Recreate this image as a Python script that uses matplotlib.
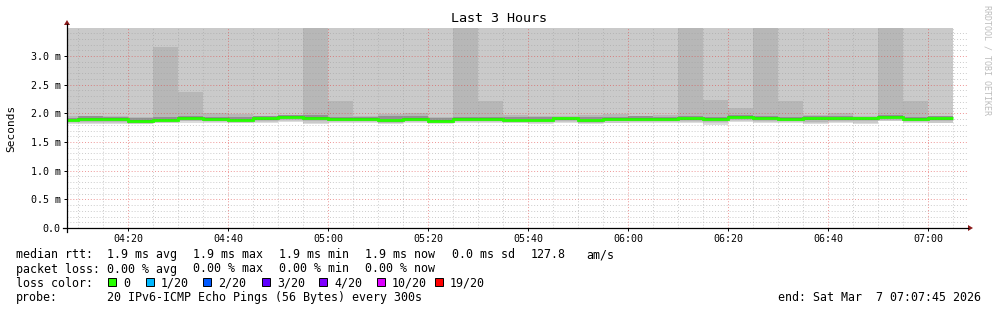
import matplotlib
matplotlib.use("Agg")
import matplotlib.pyplot as plt
from matplotlib.patches import Polygon, Rectangle
from matplotlib.lines import Line2D
from matplotlib.ticker import MultipleLocator, FixedLocator

# ---------------- data ----------------
bin_starts = ["04:05", "04:10", "04:15", "04:20", "04:25", "04:30", "04:35", "04:40", "04:45",
              "04:50", "04:55", "05:00", "05:05", "05:10", "05:15", "05:20", "05:25", "05:30",
              "05:35", "05:40", "05:45", "05:50", "05:55", "06:00", "06:05", "06:10", "06:15",
              "06:20", "06:25", "06:30", "06:35", "06:40", "06:45", "06:50", "06:55", "07:00"]
bin_width_min = 5

# median rtt (ms)
median = [1.88, 1.90, 1.90, 1.87, 1.89, 1.92, 1.90, 1.89, 1.91, 1.94, 1.92, 1.90,
          1.90, 1.88, 1.90, 1.87, 1.90, 1.90, 1.88, 1.88, 1.91, 1.88, 1.90, 1.90,
          1.90, 1.91, 1.90, 1.94, 1.92, 1.90, 1.91, 1.91, 1.91, 1.94, 1.90, 1.91]
# smoke: sorted ping bands (ms), outer -> inner
ping_min = [1.82, 1.81, 1.82, 1.81, 1.83, 1.84, 1.83, 1.83, 1.84, 1.85, 1.82, 1.83,
            1.84, 1.82, 1.83, 1.82, 1.84, 1.84, 1.83, 1.82, 1.84, 1.82, 1.83, 1.83,
            1.84, 1.84, 1.80, 1.85, 1.84, 1.83, 1.81, 1.84, 1.81, 1.86, 1.84, 1.83]
ping_max = [3.9, 4.4, 3.8, 4.1, 5.2, 4.6, 3.9, 4.0, 4.3, 3.8, 6.1, 4.2,
            3.9, 4.1, 4.0, 3.8, 5.8, 4.4, 3.9, 4.0, 4.2, 3.9, 4.1, 3.8,
            4.0, 5.5, 4.3, 4.1, 5.9, 4.2, 3.9, 4.0, 3.8, 5.6, 4.4, 4.0]
ping2_lo = [1.84, 1.83, 1.84, 1.82, 1.84, 1.86, 1.85, 1.84, 1.85, 1.87, 1.84, 1.85,
            1.85, 1.83, 1.85, 1.83, 1.85, 1.85, 1.84, 1.84, 1.85, 1.83, 1.84, 1.85,
            1.85, 1.85, 1.83, 1.87, 1.85, 1.85, 1.83, 1.85, 1.84, 1.87, 1.85, 1.84]
ping2_hi = [3.7, 3.8, 3.6, 3.7, 4.4, 3.9, 3.6, 3.7, 3.8, 3.6, 5.0, 3.7,
            3.6, 3.7, 3.7, 3.6, 4.9, 3.8, 3.6, 3.7, 3.8, 3.6, 3.7, 3.6,
            3.7, 4.6, 3.8, 3.7, 4.8, 3.7, 3.6, 3.7, 3.6, 4.7, 3.8, 3.7]
ping3_lo = [1.85, 1.85, 1.85, 1.83, 1.85, 1.87, 1.86, 1.85, 1.87, 1.89, 1.86, 1.86,
            1.86, 1.84, 1.86, 1.84, 1.86, 1.86, 1.85, 1.85, 1.87, 1.84, 1.86, 1.86,
            1.86, 1.87, 1.85, 1.89, 1.87, 1.86, 1.85, 1.87, 1.86, 1.89, 1.86, 1.86]
ping3_hi = [1.95, 1.96, 1.96, 1.93, 3.15, 2.37, 2.01, 1.98, 1.96, 1.97, 3.60, 2.21,
            1.96, 1.98, 2.01, 1.94, 3.60, 2.21, 1.97, 1.96, 1.96, 1.97, 1.98, 1.96,
            1.97, 3.60, 2.23, 2.09, 3.60, 2.22, 1.97, 2.00, 1.96, 3.60, 2.22, 1.96]
ping5_lo = [1.86, 1.87, 1.87, 1.84, 1.86, 1.89, 1.87, 1.86, 1.88, 1.91, 1.89, 1.87,
            1.87, 1.85, 1.87, 1.85, 1.87, 1.87, 1.86, 1.86, 1.88, 1.85, 1.87, 1.87,
            1.87, 1.88, 1.87, 1.91, 1.89, 1.87, 1.88, 1.88, 1.88, 1.91, 1.87, 1.88]
ping5_hi = [1.92, 1.95, 1.94, 1.91, 1.93, 1.96, 1.94, 1.93, 1.95, 1.97, 1.97, 1.94,
            1.94, 1.95, 1.95, 1.92, 1.94, 1.94, 1.93, 1.93, 1.94, 1.93, 1.94, 1.95,
            1.94, 1.95, 1.94, 1.97, 1.95, 1.94, 1.95, 1.96, 1.94, 1.97, 1.94, 1.95]
ping8_lo = [1.87, 1.88, 1.88, 1.85, 1.87, 1.90, 1.88, 1.87, 1.89, 1.92, 1.90, 1.88,
            1.88, 1.86, 1.88, 1.85, 1.88, 1.88, 1.86, 1.86, 1.89, 1.86, 1.88, 1.88,
            1.88, 1.89, 1.88, 1.92, 1.90, 1.88, 1.89, 1.89, 1.89, 1.92, 1.88, 1.89]
ping8_hi = [1.89, 1.91, 1.91, 1.88, 1.90, 1.93, 1.91, 1.90, 1.92, 1.95, 1.93, 1.91,
            1.91, 1.89, 1.91, 1.88, 1.91, 1.91, 1.89, 1.89, 1.92, 1.89, 1.91, 1.91,
            1.91, 1.92, 1.91, 1.95, 1.93, 1.91, 1.92, 1.92, 1.92, 1.95, 1.91, 1.92]

x_tick_labels = ["04:20", "04:40", "05:00", "05:20", "05:40", "06:00", "06:20", "06:40", "07:00"]
y_tick_values = [0.0, 0.5, 1.0, 1.5, 2.0, 2.5, 3.0]
y_tick_labels = ["0.0", "0.5 m", "1.0 m", "1.5 m", "2.0 m", "2.5 m", "3.0 m"]
t_start = "04:07:45"
t_end = "07:07:45"

title = "Last 3 Hours"
ylabel = "Seconds"
row1_fields = ["median rtt:", "1.9 ms avg", "1.9 ms max", "1.9 ms min", "1.9 ms now",
               "0.0 ms sd", "127.8", "am/s"]
row2_fields = ["packet loss:", "0.00 % avg", "0.00 % max", "0.00 % min", "0.00 % now"]
row3_label = "loss color:"
loss_labels = ["0", "1/20", "2/20", "3/20", "4/20", "10/20", "19/20"]
loss_colors = ["#26ff00", "#00b8ff", "#0059ff", "#5e00ff", "#7e00ff", "#dd00ff", "#ff0000"]
row4_fields = ["probe:", "20 IPv6-ICMP Echo Pings (56 Bytes) every 300s"]
end_text = "end: Sat Mar  7 07:07:45 2026"
watermark = "RRDTOOL / TOBI OETIKER"

# ---------------- helpers ----------------
def to_min(s):
    parts = [int(p) for p in s.split(":")]
    m = (parts[0] - 4) * 60 + parts[1]
    if len(parts) > 2:
        m += parts[2] / 60.0
    return m

edges = [to_min(s) for s in bin_starts] + [to_min(bin_starts[-1]) + bin_width_min]

W, H = 997, 310
fig = plt.figure(figsize=(W / 100, H / 100), dpi=100)
fig.patch.set_facecolor("white")
MONO = "DejaVu Sans Mono"

def fx(px):
    return px / W

def fy(py):
    return 1 - py / H

ax = fig.add_axes([fx(67), fy(228), 900 / W, 200 / H])
ax.set_facecolor("white")
ax.set_xlim(to_min(t_start), to_min(t_end))
ax.set_ylim(0, 200 / 57.33)

# smoke layers (smokeping greys)
layers = [
    (ping_min, ping_max, "#dddddd"),
    (ping2_lo, ping2_hi, "#cacaca"),
    (ping3_lo, ping3_hi, "#b7b7b7"),
    (ping5_lo, ping5_hi, "#919191"),
    (ping8_lo, ping8_hi, "#585858"),
]
for lo, hi, c in layers:
    ax.stairs(hi, edges, baseline=lo, fill=True, color=c, linewidth=0, zorder=1)

ax.stairs(median, edges, baseline=None, color=loss_colors[0], linewidth=2.0, zorder=3)

# grid / ticks
ax.xaxis.set_major_locator(FixedLocator([to_min(s) for s in x_tick_labels]))
ax.set_xticklabels(x_tick_labels)
ax.xaxis.set_minor_locator(MultipleLocator(5))
ax.yaxis.set_major_locator(FixedLocator(y_tick_values))
ax.set_yticklabels(y_tick_labels)
ax.yaxis.set_minor_locator(MultipleLocator(0.1))
ax.set_axisbelow(False)
ax.grid(which="minor", color="#a0a0a0", alpha=0.55, linestyle=(0, (1, 2)), linewidth=0.7)
ax.grid(which="major", color="#e04040", alpha=0.55, linestyle=(0, (1, 2)), linewidth=0.7)
for lbl in ax.get_xticklabels() + ax.get_yticklabels():
    lbl.set_fontfamily(MONO)
    lbl.set_fontsize(7.2)
ax.tick_params(which="major", direction="out", length=2, width=0.7, pad=2.5)
ax.tick_params(which="minor", length=0)
for s in ax.spines.values():
    s.set_visible(False)

# axes lines and arrows
fig.add_artist(Line2D([fx(67), fx(67)], [fy(232), fy(24)], color="black", lw=0.9))
fig.add_artist(Line2D([fx(63), fx(968)], [fy(228), fy(228)], color="black", lw=0.9))
fig.add_artist(Polygon([[fx(64), fy(25)], [fx(70), fy(25)], [fx(67), fy(20)]],
                       closed=True, fc="#8b1a1a", ec="none", transform=fig.transFigure))
fig.add_artist(Polygon([[fx(968), fy(225)], [fx(968), fy(231)], [fx(973), fy(228)]],
                       closed=True, fc="#8b1a1a", ec="none", transform=fig.transFigure))

# texts
fig.text(fx(498.5), fy(19), title, ha="center", va="center", fontsize=9.6, family=MONO)
fig.text(fx(11), fy(128), ylabel, rotation=90, ha="center", va="center", fontsize=8.0, family=MONO)
fig.text(fx(987), fy(5), watermark, rotation=-90, ha="center", va="top", fontsize=6,
         color="#bdbdbd", family=MONO)

LFS = 8.4
base_y = [258.3, 272.5, 286.7, 300.6]
row1_x = [16, 107, 193, 279, 365, 451.5, 530.5, 586]
row2_x = [16, 107, 193, 279, 365]
row4_x = [16, 107]
for txt, x in zip(row1_fields, row1_x):
    fig.text(fx(x), fy(base_y[0]), txt, ha="left", va="baseline", fontsize=LFS, family=MONO)
for txt, x in zip(row2_fields, row2_x):
    fig.text(fx(x), fy(base_y[1]), txt, ha="left", va="baseline", fontsize=LFS, family=MONO)
fig.text(fx(16), fy(base_y[2]), row3_label, ha="left", va="baseline", fontsize=LFS, family=MONO)
for txt, x in zip(row4_fields, row4_x):
    fig.text(fx(x), fy(base_y[3]), txt, ha="left", va="baseline", fontsize=LFS, family=MONO)
fig.text(fx(981), fy(base_y[3]), end_text, ha="right", va="baseline", fontsize=LFS, family=MONO)

square_x = [108, 146, 203, 262, 319, 377, 435]
for sx, lab, col in zip(square_x, loss_labels, loss_colors):
    fig.add_artist(Rectangle((fx(sx), fy(286.3)), 8 / W, 8 / H, transform=fig.transFigure,
                             fc=col, ec="black", lw=0.7))
    fig.text(fx(sx + 15), fy(base_y[2]), lab, ha="left", va="baseline", fontsize=LFS, family=MONO)

fig.savefig("out.png", dpi=100, facecolor="white")
